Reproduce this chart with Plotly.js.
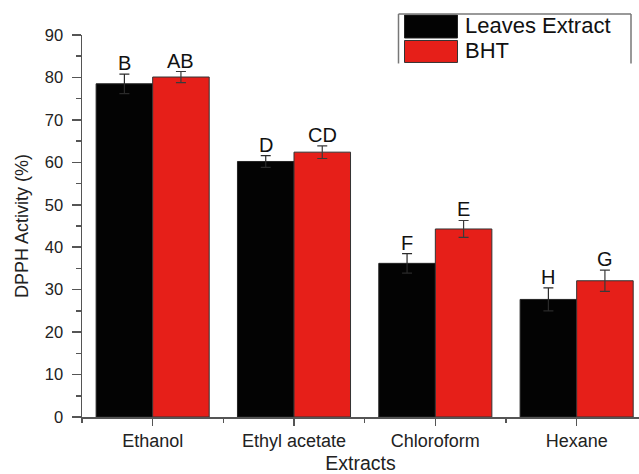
<!DOCTYPE html>
<html>
<head>
<meta charset="utf-8">
<script src="https://cdn.plot.ly/plotly-3.0.1.min.js"></script>
<style>html,body{margin:0;padding:0;background:#fff;}#chart{width:639px;height:474px;}</style>
</head>
<body>
<div id="chart"></div>
<script>
// ---- data ----
const categories = ["Ethanol", "Ethyl acetate", "Chloroform", "Hexane"];
const seriesNames = ["Leaves Extract", "BHT"];
const leavesValues = [78.5, 60.2, 36.2, 27.7];
const leavesErrors = [2.3, 1.4, 2.3, 2.7];
const bhtValues = [80.1, 62.4, 44.3, 32.1];
const bhtErrors = [1.3, 1.5, 2.0, 2.5];
const leavesLetters = ["B", "D", "F", "H"];
const bhtLetters = ["AB", "CD", "E", "G"];
const yTickVals = [0, 10, 20, 30, 40, 50, 60, 70, 80, 90];

// ---- layout geometry ----
const W = 639, H = 474;
const M = {l: 82, r: 0, t: 34.5, b: 57};
const plotW = W - M.l - M.r, plotH = H - M.t - M.b;
const px2x = px => (px - M.l) / plotW;
const py2y = py => (H - M.b - py) / plotH;
const FONT = "Liberation Sans, Arial, Helvetica, sans-serif";
const BLACK = "#030303", RED = "#E61F19";

const xIdx = categories.map((c, i) => i);

const traces = [
  {
    type: "bar", name: seriesNames[0], x: xIdx, y: leavesValues,
    marker: {color: BLACK, line: {color: "#222", width: 1}},
    error_y: {type: "data", array: leavesErrors, visible: true, color: "#2a2a2a", thickness: 1.2, width: 5},
    showlegend: false
  },
  {
    type: "bar", name: seriesNames[1], x: xIdx, y: bhtValues,
    marker: {color: RED, line: {color: "#333", width: 1}},
    error_y: {type: "data", array: bhtErrors, visible: true, color: "#3a3a3a", thickness: 1.2, width: 5},
    showlegend: false
  }
];

const annotations = [];
xIdx.forEach(i => {
  annotations.push({x: i - 0.2, y: leavesValues[i] + leavesErrors[i], xref: "x", yref: "y",
    text: leavesLetters[i], showarrow: false, yanchor: "bottom", yshift: -2,
    font: {family: FONT, size: 20, color: "#111"}});
  annotations.push({x: i + 0.2, y: bhtValues[i] + bhtErrors[i], xref: "x", yref: "y",
    text: bhtLetters[i], showarrow: false, yanchor: "bottom", yshift: -2,
    font: {family: FONT, size: 20, color: "#111"}});
});
// custom legend text
annotations.push({xref: "paper", yref: "paper", x: px2x(463), y: py2y(25), xanchor: "left", yanchor: "middle",
  text: seriesNames[0], showarrow: false, font: {family: FONT, size: 22, color: "#111"}});
annotations.push({xref: "paper", yref: "paper", x: px2x(463), y: py2y(50.5), xanchor: "left", yanchor: "middle",
  text: seriesNames[1], showarrow: false, font: {family: FONT, size: 22, color: "#111"}});

const shapes = [
  // legend swatches
  {type: "rect", xref: "paper", yref: "paper", x0: px2x(404.5), x1: px2x(457.5), y0: py2y(37.5), y1: py2y(14.5),
   fillcolor: BLACK, line: {color: "#222", width: 1}},
  {type: "rect", xref: "paper", yref: "paper", x0: px2x(404.5), x1: px2x(457.5), y0: py2y(62), y1: py2y(40),
   fillcolor: RED, line: {color: "#333", width: 1}},
  // legend frame (top, left, right)
  {type: "line", xref: "paper", yref: "paper", x0: px2x(398.5), x1: px2x(631), y0: py2y(13.5), y1: py2y(13.5),
   line: {color: "#777", width: 1.5}},
  {type: "line", xref: "paper", yref: "paper", x0: px2x(398.5), x1: px2x(398.5), y0: py2y(13.5), y1: py2y(63),
   line: {color: "#777", width: 1.5}},
  {type: "line", xref: "paper", yref: "paper", x0: px2x(631), x1: px2x(631), y0: py2y(13.5), y1: py2y(63),
   line: {color: "#777", width: 1.5}}
];

const layout = {
  width: W, height: H,
  margin: M,
  paper_bgcolor: "#fff", plot_bgcolor: "#fff",
  barmode: "group", bargap: 0.2, bargroupgap: 0,
  showlegend: false,
  font: {family: FONT, color: "#111"},
  xaxis: {
    type: "linear",
    range: [-0.5, -0.5 + plotW / 141.33],
    tickvals: xIdx, ticktext: categories,
    ticks: "outside", ticklen: 7, tickwidth: 1.5, tickcolor: "#555",
    minor: {tick0: -0.5, dtick: 1, ticks: "outside", ticklen: 4, tickwidth: 1.5, tickcolor: "#555"},
    showline: true, linecolor: "#555", linewidth: 1.5,
    showgrid: false, zeroline: false,
    tickfont: {family: FONT, size: 18, color: "#222"},
    ticklabelstandoff: 0,
    title: {text: "Extracts", font: {family: FONT, size: 19.5, color: "#222"}, standoff: 10}
  },
  yaxis: {
    range: [0, 90],
    tickvals: yTickVals,
    ticks: "outside", ticklen: 9, tickwidth: 1.5, tickcolor: "#555",
    minor: {dtick: 5, ticks: "outside", ticklen: 5, tickwidth: 1.5, tickcolor: "#555"},
    showline: true, linecolor: "#555", linewidth: 1.5,
    showgrid: false, zeroline: false,
    tickfont: {family: FONT, size: 16.5, color: "#222"},
    ticklabelstandoff: 5,
    title: {text: "DPPH Activity (%)", font: {family: FONT, size: 18, color: "#222"}, standoff: 11}
  },
  annotations: annotations,
  shapes: shapes
};

Plotly.newPlot("chart", traces, layout, {displayModeBar: false, staticPlot: true});
</script>
</body>
</html>
